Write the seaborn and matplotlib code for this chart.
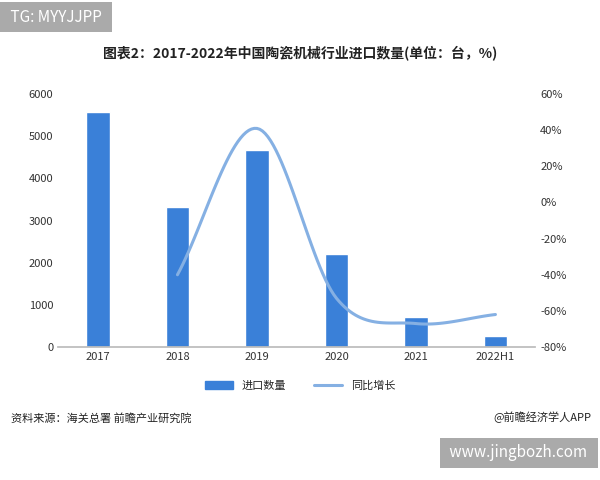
import numpy as np
import pandas as pd
import matplotlib
matplotlib.use("Agg")
import matplotlib.pyplot as plt
import seaborn as sns

years = ["2017", "2018", "2019", "2020", "2021", "2022H1"]
imports = [5580, 3320, 4680, 2200, 720, 270]
yoy_years = ["2018", "2019", "2020", "2021", "2022H1"]
yoy = [-40, 41, -53, -67, -62]

sns.set_theme(style="white")
plt.rcParams['font.family'] = ['Noto Sans CJK SC', 'DejaVu Sans']

fig = plt.figure(figsize=(6, 4.8), dpi=100)
ax = fig.add_axes([0.097, 0.277, 0.795, 0.527])
df = pd.DataFrame({"year": years, "v": imports})
sns.barplot(data=df, x="year", y="v", color="#3a80d8", width=0.3, ax=ax, saturation=1)
ax.set_ylim(0, 6000)
ax.set_yticks(range(0, 6001, 1000))
ax.set_xlabel(""); ax.set_ylabel("")
for s in ["top", "right", "left"]:
    ax.spines[s].set_visible(False)
ax.spines["bottom"].set_color("#bbbbbb")
ax.tick_params(labelsize=8, colors="#333333", length=0)

ax2 = ax.twinx()
xs = np.array([years.index(y) for y in yoy_years], dtype=float)
ys = np.array(yoy, dtype=float)
# Catmull-Rom smoothing for display
px = np.concatenate([[2*xs[0]-xs[1]], xs, [2*xs[-1]-xs[-2]]])
py = np.concatenate([[2*ys[0]-ys[1]], ys, [2*ys[-1]-ys[-2]]])
cx, cy = [], []
for i in range(1, len(px)-2):
    t = np.linspace(0, 1, 30)
    p0, p1, p2, p3 = py[i-1], py[i], py[i+1], py[i+2]
    cy.append(0.5*((2*p1)+(-p0+p2)*t+(2*p0-5*p1+4*p2-p3)*t**2+(-p0+3*p1-3*p2+p3)*t**3))
    cx.append(px[i] + t*(px[i+1]-px[i]))
sns.lineplot(x=np.concatenate(cx), y=np.concatenate(cy), ax=ax2, color="#85b0e3", lw=2.2, sort=False)
ax2.set_ylim(-80, 60)
ax2.set_yticks(range(-80, 61, 20))
ax2.set_yticklabels([f"{v}%" for v in range(-80, 61, 20)])
for s in ["top", "right", "left", "bottom"]:
    ax2.spines[s].set_visible(False)
ax2.tick_params(labelsize=8, colors="#333333", length=0)
ax.set_xlim(-0.5, 5.5)

fig.text(0.5, 0.878, "图表2：2017-2022年中国陶瓷机械行业进口数量(单位：台，%)", ha="center",
         fontsize=10, weight="bold", color="#222222")
from matplotlib.patches import Rectangle
from matplotlib.lines import Line2D
h = [Rectangle((0, 0), 1, 1, color="#3a80d8"), Line2D([0], [0], color="#85b0e3", lw=2.2)]
fig.legend(h, ["进口数量", "同比增长"], loc="center", bbox_to_anchor=(0.5, 0.197), ncol=2,
           frameon=False, fontsize=8, handlelength=2.5, columnspacing=2.5)
fig.text(0.018, 0.122, "资料来源：海关总署 前瞻产业研究院", fontsize=8, color="#222222")
fig.text(0.985, 0.122, "@前瞻经济学人APP", fontsize=8, color="#222222", ha="right")
fig.text(0.012, 0.955, " TG: MYYJJPP ", fontsize=11, color="white",
         bbox=dict(facecolor="#aaaaaa", edgecolor="none", pad=5))
fig.text(0.985, 0.047, " www.jingbozh.com ", fontsize=11, color="white", ha="right",
         bbox=dict(facecolor="#aaaaaa", edgecolor="none", pad=5))
fig.savefig("out.png", dpi=100)
